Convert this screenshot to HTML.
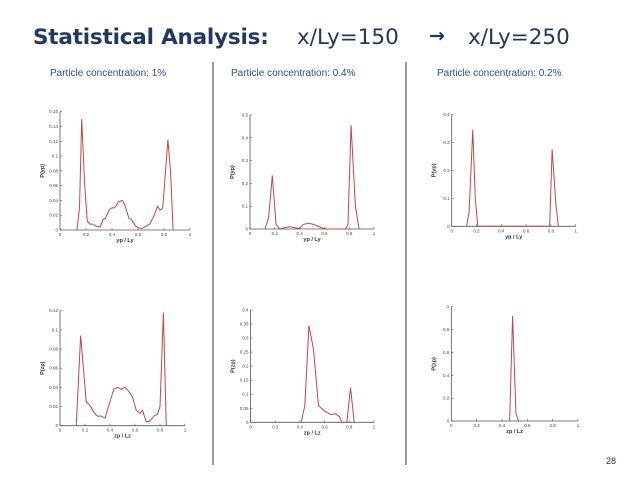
<!DOCTYPE html>
<html><head><meta charset="utf-8"><style>
body{margin:0;width:638px;height:479px;background:#fff;overflow:hidden;font-family:"Liberation Sans",sans-serif;position:relative}
.t{position:absolute;white-space:nowrap}
.h{font-family:"DejaVu Sans",sans-serif;color:#1f3864;line-height:1}
</style></head><body>
<div class="t h" style="left:33px;top:27px;font-size:21.5px;font-weight:bold;letter-spacing:-0.2px">Statistical Analysis:</div>
<div class="t h" style="left:297px;top:27px;font-size:21.5px">x/Ly=150</div>
<div class="t h" style="left:429px;top:27px;font-size:19px;font-weight:bold">→</div>
<div class="t h" style="left:468px;top:27px;font-size:21.5px">x/Ly=250</div>
<div class="t" style="left:50px;top:68px;font-size:10px;color:#2e4d8f">Particle concentration: 1%</div>
<div class="t" style="left:231px;top:68px;font-size:10px;color:#2e4d8f">Particle concentration: 0.4%</div>
<div class="t" style="left:437px;top:68px;font-size:10px;color:#2e4d8f">Particle concentration: 0.2%</div>
<div class="t" style="left:606px;top:456px;font-size:9px;color:#1f3864">28</div>
<svg id="s" width="638" height="479" style="position:absolute;left:0;top:0">
<line x1="213" y1="62" x2="213" y2="465" stroke="#333" stroke-width="1"/>
<line x1="406" y1="62" x2="406" y2="465" stroke="#333" stroke-width="1"/>
</svg>
<script>
const p1x=[0.13,0.15,0.167,0.19,0.21,0.23,0.25,0.28,0.31,0.33,0.35,0.38,0.40,0.42,0.45,0.48,0.50,0.53,0.55,0.58,0.60,0.63,0.66,0.69,0.72,0.75,0.77,0.79,0.83,0.85,0.87];
const p1y=[0,0.03,0.15,0.06,0.012,0.008,0.008,0.005,0.004,0.014,0.016,0.028,0.030,0.030,0.038,0.040,0.033,0.016,0.014,0.006,0.003,0.002,0.005,0.008,0.018,0.032,0.027,0.030,0.122,0.08,0];
const p4x=[0.13,0.165,0.21,0.24,0.27,0.30,0.33,0.36,0.40,0.43,0.46,0.49,0.52,0.55,0.58,0.61,0.64,0.66,0.69,0.72,0.75,0.78,0.80,0.827,0.85];
const p4y=[0,0.094,0.025,0.021,0.014,0.010,0.010,0.008,0.025,0.038,0.040,0.038,0.040,0.036,0.030,0.016,0.013,0.016,0.004,0.005,0.010,0.012,0.02,0.118,0];
const p2x=[0.12,0.15,0.18,0.21,0.24,0.27,0.32,0.37,0.40,0.43,0.47,0.50,0.55,0.58,0.62,0.77,0.79,0.815,0.85,0.88];
const p2y=[0,0.05,0.235,0.02,0,0.005,0.01,0.005,0.002,0.02,0.025,0.022,0.012,0.005,0,0,0.02,0.455,0.1,0];
const p5x=[0.41,0.44,0.473,0.51,0.55,0.60,0.65,0.69,0.72,0.74,0.78,0.81,0.84];
const p5y=[0,0.06,0.345,0.26,0.06,0.04,0.028,0.03,0.02,0,0,0.123,0];
const p3x=[0.12,0.14,0.17,0.19,0.21,0.79,0.81,0.84,0.86];
const p3y=[0,0.05,0.345,0.1,0,0,0.275,0.08,0];
const p6x=[0.46,0.484,0.51,0.53];
const p6y=[0,0.92,0.07,0];
const xTicks=[0,0.2,0.4,0.6,0.8,1];
const p1Ticks=[0,0.02,0.04,0.06,0.08,0.1,0.12,0.14,0.16];
const p4Ticks=[0,0.02,0.04,0.06,0.08,0.1,0.12];
const p2Ticks=[0,0.1,0.2,0.3,0.4,0.5];
const p5Ticks=[0,0.05,0.1,0.15,0.2,0.25,0.3,0.35,0.4];
const p3Ticks=[0,0.1,0.2,0.3,0.4];
const p6Ticks=[0,0.2,0.4,0.6,0.8,1];
const NS='http://www.w3.org/2000/svg',svg=document.getElementById('s');
function mk(t,a,p){const e=document.createElementNS(NS,t);for(const k in a)e.setAttribute(k,a[k]);(p||svg).appendChild(e);return e;}
function plot(name,box,xs,ys,yt,xl,yl){
 const g=mk('g',{});
 
 
 const ymax=yt[yt.length-1];
 const X=v=>box.x0+(box.x1-box.x0)*v, Y=v=>box.y0-(box.y0-box.yt)*v/ymax;
 const ax=mk('path',{d:`M${X(0)},${Y(ymax)}V${Y(0)}H${X(1)}`,stroke:'#555',fill:'none','stroke-width':0.8},g);
 
 
 xTicks.forEach(v=>{mk('line',{x1:X(v),x2:X(v),y1:Y(0),y2:Y(0)-2,stroke:'#555','stroke-width':0.6},g);
  const t=mk('text',{x:X(v),y:Y(0)+6,'font-size':4.5,'text-anchor':'middle',fill:'#444'},g);t.textContent=v;
  });
 yt.forEach(v=>{mk('line',{x1:X(0),x2:X(0)+2,y1:Y(v),y2:Y(v),stroke:'#555','stroke-width':0.6},g);
  const t=mk('text',{x:X(0)-2,y:Y(v)+1.5,'font-size':4.5,'text-anchor':'end',fill:'#444'},g);t.textContent=v;
  });
 const xt=mk('text',{x:(X(0)+X(1))/2,y:Y(0)+12,'font-size':5.5,'text-anchor':'middle',fill:'#333','font-weight':'bold'},g);xt.textContent=xl;
 
 const cy=(Y(0)+Y(ymax))/2,cx=X(0)-16;
 const ytt=mk('text',{x:cx,y:cy,'font-size':5.5,'text-anchor':'middle',fill:'#333','font-weight':'bold',transform:`rotate(-90 ${cx} ${cy})`},g);ytt.textContent=yl;
 
 const ln=mk('polyline',{points:xs.map((v,i)=>X(v)+','+Y(ys[i])).join(' '),fill:'none',stroke:'#c04848','stroke-width':1},g);
 
}
plot('chart-y-1pct',{x0:60,x1:190,y0:230,yt:111.7},p1x,p1y,p1Ticks,'yp / Ly','P(yp)');
plot('chart-z-1pct',{x0:60,x1:185,y0:425.7,yt:310.7},p4x,p4y,p4Ticks,'zp / Lz','P(zp)');
plot('chart-y-04pct',{x0:250,x1:374,y0:229,yt:115},p2x,p2y,p2Ticks,'yp / Ly','P(yp)');
plot('chart-z-04pct',{x0:250.5,x1:374,y0:422.3,yt:310},p5x,p5y,p5Ticks,'zp / Lz','P(zp)');
plot('chart-y-02pct',{x0:451.7,x1:575.7,y0:226.3,yt:114.3},p3x,p3y,p3Ticks,'yp / Ly','P(yp)');
plot('chart-z-02pct',{x0:451.3,x1:578,y0:421,yt:306.7},p6x,p6y,p6Ticks,'zp / Lz','P(zp)');
</script>
</body></html>
